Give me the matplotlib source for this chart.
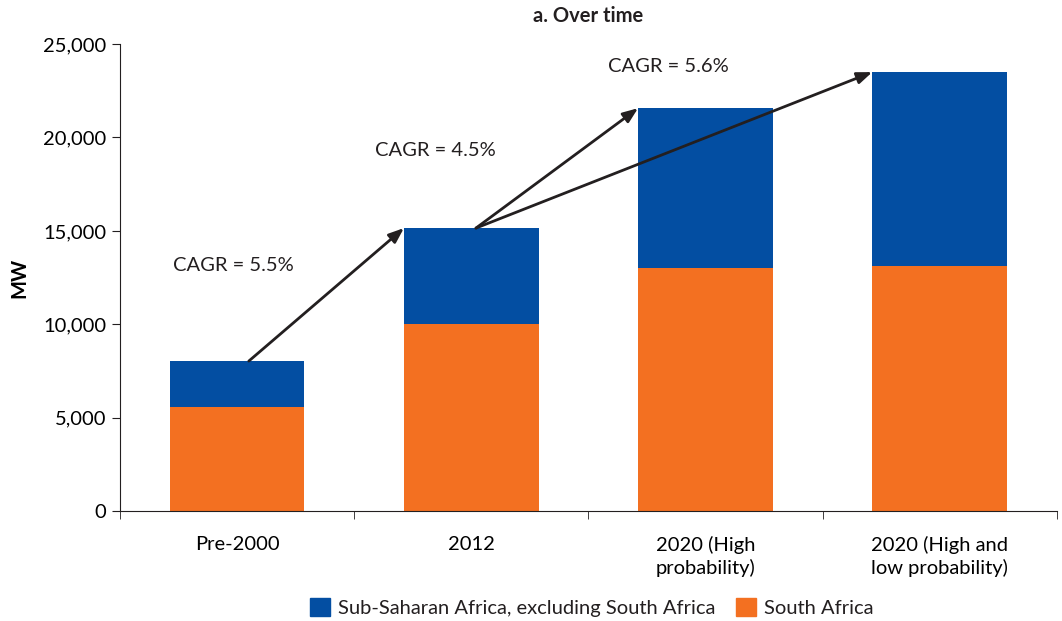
import numpy as np
import matplotlib.pyplot as plt
from matplotlib.patches import Patch

categories = ["Pre-2000", "2012", "2020 (High\nprobability)", "2020 (High and\nlow probability)"]
south_africa = [5570, 10000, 13000, 13100]
rest_ssa = [2460, 5150, 8570, 10400]
cagr_labels = ["CAGR = 5.5%", "CAGR = 4.5%", "CAGR = 5.6%"]

blue = "#034ea2"
orange = "#f37021"

plt.rcParams['font.family'] = ['Lato', 'DejaVu Sans']
plt.rcParams['text.color'] = '#231f20'

fig = plt.figure(figsize=(10.62, 6.21), dpi=100)
ax = fig.add_axes([0.113, 0.177, 0.882, 0.752])

x = np.arange(len(categories))
width = 0.575
totals = np.array(south_africa) + np.array(rest_ssa)

ax.bar(x, south_africa, width, color=orange)
ax.bar(x, rest_ssa, width, bottom=south_africa, color=blue)

ax.set_xlim(-0.5, len(categories) - 0.5)
ax.set_ylim(0, 25000)
ax.set_yticks(np.arange(0, 25001, 5000))
ax.set_yticklabels([f"{v:,}" for v in range(0, 25001, 5000)], fontsize=14.5)
ax.set_xticks(x)
ax.set_xticklabels(categories, fontsize=14.5, linespacing=1.35)
ax.tick_params(axis='x', length=0, pad=18)
ax.set_xticks(np.arange(-0.5, len(categories), 1.0), minor=True)
ax.tick_params(axis='x', which='minor', length=6, direction='out', color='#231f20')
ax.tick_params(axis='y', length=6, color='#231f20', pad=4)
for s in ['top', 'right']:
    ax.spines[s].set_visible(False)
for s in ['left', 'bottom']:
    ax.spines[s].set_color('#231f20')
ax.set_ylabel("MW", fontsize=14.5, fontweight='bold', labelpad=10)
ax.set_title("a. Over time", fontsize=14.5, fontweight='bold', pad=16)

# growth arrows
arrow = dict(arrowstyle='-|>,head_length=0.9,head_width=0.35', color='#231f20', lw=2,
             shrinkA=0, shrinkB=0)
left_edge = width / 2
ax.annotate("", xy=(1 - left_edge, totals[1]), xytext=(0.05, totals[0]), arrowprops=arrow)
ax.annotate("", xy=(2 - left_edge, totals[2]), xytext=(1.02, totals[1]), arrowprops=arrow)
ax.annotate("", xy=(3 - left_edge, totals[3]), xytext=(1.02, totals[1]), arrowprops=arrow)

ax.text(-0.015, 13150, cagr_labels[0], fontsize=14.5, ha='center', va='center')
ax.text(0.845, 19300, cagr_labels[1], fontsize=14.5, ha='center', va='center')
ax.text(1.84, 23780, cagr_labels[2], fontsize=14.5, ha='center', va='center')

handles = [Patch(color=blue, label="Sub-Saharan Africa, excluding South Africa"),
           Patch(color=orange, label="South Africa")]
fig.legend(handles=handles, loc='lower center', bbox_to_anchor=(0.557, -0.022), ncol=2,
           frameon=False, fontsize=14.5, handlelength=1.0, handleheight=1.0,
           handletextpad=0.4, columnspacing=1.0)

fig.savefig("out.png", dpi=100)
